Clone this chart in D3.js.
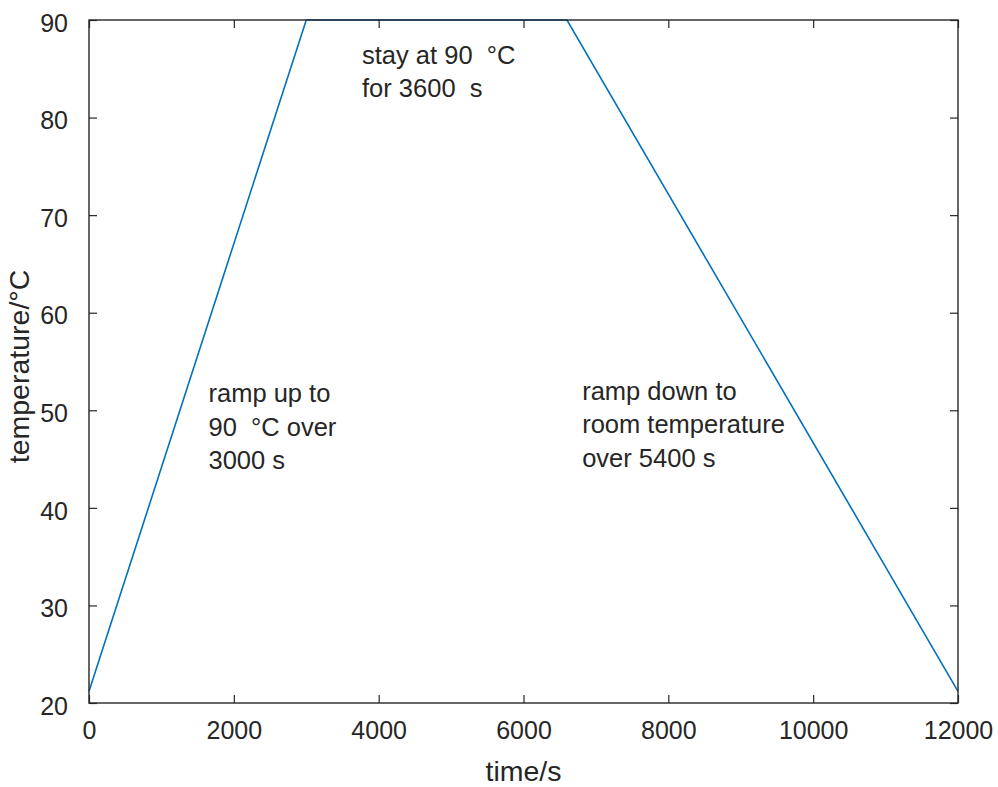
<!DOCTYPE html>
<html>
<head>
<meta charset="utf-8">
<script src="https://cdn.jsdelivr.net/npm/d3@7"></script>
<style>
  body { margin: 0; background: #fff; }
  text { font-family: Arial, "Liberation Sans", sans-serif; fill: #262626; white-space: pre; }
</style>
</head>
<body>
<div class="container"></div>
<script>
// temperature profile (time in s, temperature in °C)
var times = [0, 3000, 6600, 12000];
var temps = [21.2, 90, 90, 21.2];

var xTicks = [0, 2000, 4000, 6000, 8000, 10000, 12000];
var yTicks = [20, 30, 40, 50, 60, 70, 80, 90];

// annotation text, anchored at data coords of first baseline
var noteText = [
    ["stay at 90 \u00a0°C", "for 3600 \u00a0s"],
    ["ramp up to", "90 \u00a0°C over", "3000 s"],
    ["ramp down to", "room temperature", "over 5400 s"]
];
var noteX = [3770, 1650, 6810];
var noteY = [85.5, 50.8, 51.1];

var width = 998, height = 787;
// axes box edges (don't call these top/left, window.top is read-only)
var boxLeft = 89, boxRight = 958, boxTop = 20, boxBottom = 703;

var svg = d3.select(".container")
    .append("svg")
    .attr("width", width)
    .attr("height", height);

var x = d3.scaleLinear().domain([0, 12000]).range([boxLeft, boxRight]);
var y = d3.scaleLinear().domain([20, 90]).range([boxBottom, boxTop]);

var tickLen = 8;
var axisColor = "#262626";

// the line first, box drawn over it
var line = d3.line()
    .x(function(d) { return x(d[0]); })
    .y(function(d) { return y(d[1]); });

svg.append("path")
    .datum(times.map(function(t, i) { return [t, temps[i]]; }))
    .attr("d", line)
    .attr("fill", "none")
    .attr("stroke", "#0072BD")
    .attr("stroke-width", 1.6);

// axes box
svg.append("rect")
    .attr("x", boxLeft)
    .attr("y", boxTop)
    .attr("width", boxRight - boxLeft)
    .attr("height", boxBottom - boxTop)
    .attr("fill", "none")
    .attr("stroke", axisColor)
    .attr("stroke-width", 1.4);

// inward ticks on all four sides (MATLAB style)
var fmt = d3.format("d");
var bottomAxis = d3.axisBottom(x).tickValues(xTicks).tickFormat(fmt).tickSizeInner(-tickLen).tickSizeOuter(0).tickPadding(18);
var topAxis = d3.axisTop(x).tickValues(xTicks).tickSizeInner(-tickLen).tickSizeOuter(0).tickFormat("");
var leftAxis = d3.axisLeft(y).tickValues(yTicks).tickFormat(fmt).tickSizeInner(-tickLen).tickSizeOuter(0).tickPadding(21);
var rightAxis = d3.axisRight(y).tickValues(yTicks).tickSizeInner(-tickLen).tickSizeOuter(0).tickFormat("");

function styleAxis(g) {
    g.select(".domain").remove();
    g.selectAll(".tick line").attr("stroke", axisColor).attr("stroke-width", 1.2);
    g.selectAll(".tick text")
        .attr("fill", axisColor)
        .style("font-size", "25px")
        .style("font-family", "Arial, 'Liberation Sans', sans-serif");
}

svg.append("g").attr("transform", "translate(0," + boxBottom + ")").call(bottomAxis).call(styleAxis);
svg.append("g").attr("transform", "translate(0," + boxTop + ")").call(topAxis).call(styleAxis);
svg.append("g").attr("transform", "translate(" + boxLeft + ",0)").call(leftAxis).call(styleAxis)
    .selectAll(".tick text").attr("dy", "0.45em");
svg.append("g").attr("transform", "translate(" + boxRight + ",0)").call(rightAxis).call(styleAxis);

// axis labels
svg.append("text")
    .attr("x", (boxLeft + boxRight) / 2)
    .attr("y", 781)
    .attr("text-anchor", "middle")
    .style("font-size", "28.5px")
    .text("time/s");

svg.append("text")
    .attr("transform", "translate(29," + ((boxTop + boxBottom) / 2 + 5) + ") rotate(-90)")
    .attr("text-anchor", "middle")
    .style("font-size", "28.5px")
    .text("temperature/°C");

// annotations
noteText.forEach(function(lines, i) {
    var t = svg.append("text")
        .attr("x", x(noteX[i]))
        .attr("y", y(noteY[i]))
        .style("font-size", "25.5px");
    lines.forEach(function(s, j) {
        t.append("tspan")
            .attr("x", x(noteX[i]))
            .attr("dy", j == 0 ? 0 : 33.5)
            .text(s);
    });
});
</script>
</body>
</html>
